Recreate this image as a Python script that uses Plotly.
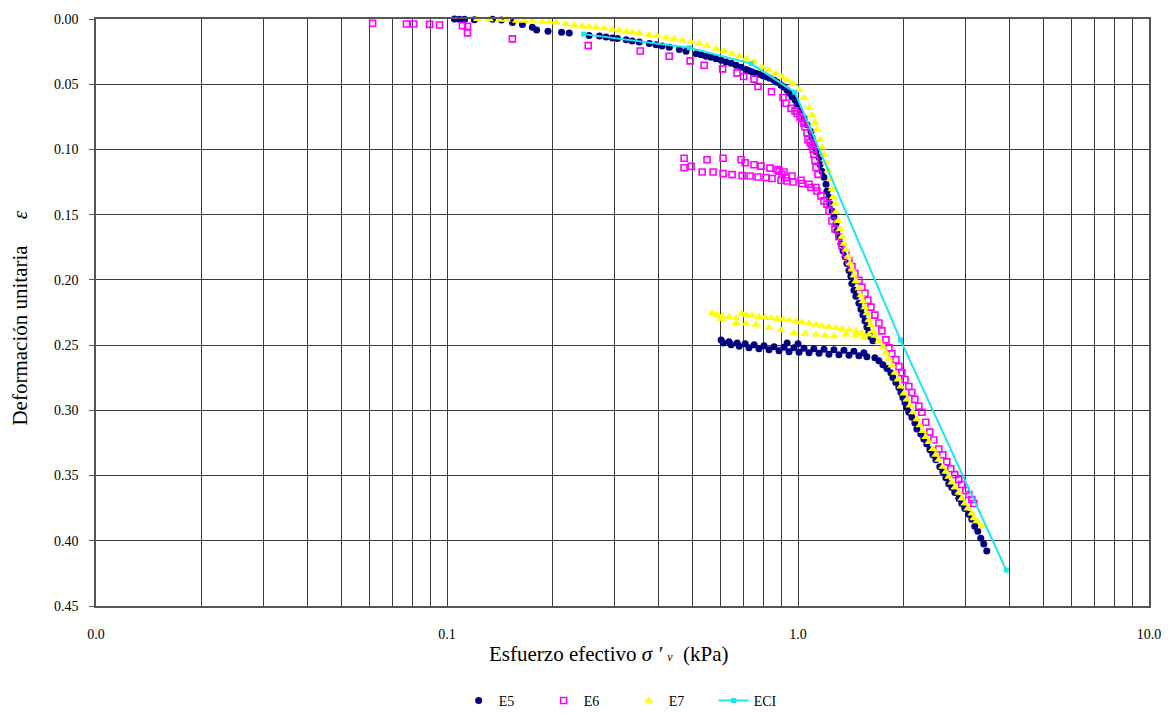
import plotly.graph_objects as go

# ---- E5 : loading curve, unload/reload loop and final compression ----
e5_x = [0.1050, 0.1085, 0.1122, 0.1197, 0.1347, 0.1429, 0.1536, 0.164, 0.175, 0.180,
        0.194, 0.212, 0.223, 0.254, 0.272, 0.284, 0.296, 0.306, 0.324, 0.337,
        0.353, 0.377, 0.394, 0.410, 0.430, 0.459, 0.480, 0.513, 0.530, 0.547,
        0.565, 0.584, 0.604, 0.624, 0.645, 0.666, 0.689, 0.711, 0.725, 0.740,
        0.759, 0.774, 0.795, 0.816, 0.832, 0.855, 0.872, 0.895, 0.912, 0.930,
        0.943, 0.961, 0.981, 0.993,
        1.013, 1.040, 1.061, 1.089, 1.096, 1.110, 1.125, 1.148, 1.155, 1.170,
        1.186, 1.202, 1.209, 1.225, 1.233, 1.250, 1.266, 1.283, 1.291, 1.308,
        1.325, 1.343, 1.361, 1.378, 1.397, 1.415, 1.424, 1.443, 1.462, 1.491,
        1.511, 1.531, 1.551, 1.571, 1.592, 1.613, 1.635,
        0.604, 0.636, 0.671, 0.707, 0.750, 0.800, 0.855, 0.931, 1.000, 0.912,
        0.974, 1.040, 1.110, 1.186, 1.266, 1.352, 1.443, 1.541,
        0.612, 0.645, 0.680, 0.725, 0.774, 0.827, 0.883, 0.943, 1.007, 1.075,
        1.148, 1.225, 1.308, 1.397, 1.491, 1.571,
        1.656, 1.700, 1.745, 1.792, 1.839, 1.863, 1.900, 1.938, 1.964, 1.989,
        2.016, 2.042, 2.069, 2.111, 2.152, 2.181, 2.239, 2.283, 2.328, 2.375,
        2.422, 2.470, 2.535, 2.586, 2.637, 2.689, 2.743, 2.797, 2.872, 2.928,
        2.987, 3.066, 3.127, 3.189, 3.252, 3.317, 3.383, 3.450]
e5_y = [0.0000, 0.0002, 0.0002, 0.0005, 0.0002, 0.0008, 0.0026, 0.0043, 0.0064, 0.0084,
        0.0094, 0.0102, 0.0108, 0.0127, 0.0131, 0.0138, 0.0146, 0.0150, 0.0160, 0.0169,
        0.0176, 0.0188, 0.0198, 0.0207, 0.0216, 0.0233, 0.0248, 0.0266, 0.0275, 0.0286,
        0.0294, 0.0304, 0.0317, 0.0330, 0.0340, 0.0355, 0.0370, 0.0388, 0.0397, 0.0406,
        0.0416, 0.0423, 0.0435, 0.0444, 0.0454, 0.0469, 0.0484, 0.0507, 0.0522, 0.0545,
        0.0568, 0.0596, 0.0621, 0.0659,
        0.0705, 0.0758, 0.0811, 0.0864, 0.0910, 0.0963, 0.1016, 0.1062, 0.1115, 0.1168,
        0.1214, 0.1267, 0.1320, 0.1366, 0.1419, 0.1472, 0.1518, 0.1571, 0.1624, 0.1669,
        0.1723, 0.1776, 0.1821, 0.1875, 0.1928, 0.1973, 0.2027, 0.2080, 0.2125, 0.2179,
        0.2225, 0.2270, 0.2316, 0.2361, 0.2399, 0.2437, 0.2467,
        0.2460, 0.2475, 0.2483, 0.2490, 0.2498, 0.2505, 0.2513, 0.2483, 0.2490, 0.2517,
        0.2520, 0.2524, 0.2528, 0.2532, 0.2536, 0.2540, 0.2547, 0.2559,
        0.2483, 0.2498, 0.2509, 0.2520, 0.2528, 0.2536, 0.2543, 0.2551, 0.2555, 0.2559,
        0.2562, 0.2570, 0.2574, 0.2578, 0.2581, 0.2589,
        0.2597, 0.2619, 0.2650, 0.2680, 0.2711, 0.2749, 0.2787, 0.2825, 0.2863, 0.2901,
        0.2939, 0.2977, 0.3015, 0.3053, 0.3098, 0.3144, 0.3182, 0.3220, 0.3258, 0.3303,
        0.3341, 0.3379, 0.3433, 0.3471, 0.3516, 0.3562, 0.3592, 0.3630, 0.3676, 0.3714,
        0.3752, 0.3797, 0.3835, 0.3888, 0.3927, 0.3980, 0.4025, 0.4079]

# ---- E6 ----
e6_x = [0.0614, 0.0767, 0.0803, 0.0892, 0.0952, 0.1107, 0.1144, 0.1144, 0.1536, 0.2526,
        0.3553, 0.4295, 0.4928, 0.5402, 0.6099, 0.6706, 0.6998, 0.7495, 0.7693, 0.8404,
        0.9064, 0.9244, 0.9552, 0.9805, 0.9935, 1.0132, 1.0266, 1.0401, 1.0470, 1.0608,
        1.0678, 1.0818, 1.0961, 1.1033, 1.1104, 1.1177, 1.1251, 1.1401,
        0.4738, 0.5507, 0.6118, 0.6885, 0.7067, 0.7495, 0.7846, 0.8323, 0.8715, 0.9124,
        0.9614, 1.0199, 1.0747, 1.1251, 0.8829, 0.9005, 0.9244,
        0.4738, 0.4961, 0.5332, 0.5730, 0.6118, 0.6490, 0.6930, 0.7302, 0.7693, 0.8108,
        0.8433, 0.8946, 0.9305, 0.9677, 1.0266, 1.0888, 1.1325, 1.1627, 1.1859,
        1.2092, 1.2252, 1.2496, 1.2744, 1.3081, 1.3341, 1.3695, 1.3966, 1.4244, 1.4526,
        1.4912, 1.5207, 1.5510, 1.5818, 1.6132, 1.6561, 1.7000, 1.7337, 1.7798, 1.8151,
        1.8512, 1.9004, 1.9380, 1.9764, 2.0157, 2.0693, 2.1105, 2.1521, 2.2093, 2.2533,
        2.3129, 2.3746, 2.4375, 2.5187, 2.5855, 2.6544, 2.7248, 2.7972, 2.8715, 2.9284,
        3.0063, 3.0660, 3.1269, 3.1682]
e6_y = [0.0033, 0.0038, 0.0038, 0.0041, 0.0046, 0.0051, 0.0056, 0.0106, 0.0152, 0.0204,
        0.0245, 0.0286, 0.0321, 0.0355, 0.0382, 0.0413, 0.0441, 0.0461, 0.0518, 0.0558,
        0.0602, 0.0646, 0.0685, 0.0704, 0.0725, 0.0750, 0.0765, 0.0798, 0.0826, 0.0872,
        0.0925, 0.0948, 0.0970, 0.1001, 0.1039, 0.1084, 0.1138, 0.1191,
        0.1067, 0.1079, 0.1067, 0.1079, 0.1102, 0.1117, 0.1128, 0.1143, 0.1155, 0.1173,
        0.1204, 0.1236, 0.1267, 0.1292, 0.1166, 0.1191, 0.1216,
        0.1140, 0.1130, 0.1173, 0.1173, 0.1185, 0.1193, 0.1201, 0.1204, 0.1211, 0.1216,
        0.1223, 0.1236, 0.1242, 0.1249, 0.1261, 0.1292, 0.1318, 0.1356, 0.1394,
        0.1419, 0.1472, 0.1548, 0.1609, 0.1669, 0.1738, 0.1799, 0.1852, 0.1897, 0.1951,
        0.2004, 0.2057, 0.2103, 0.2156, 0.2209, 0.2270, 0.2331, 0.2391, 0.2460, 0.2520,
        0.2566, 0.2612, 0.2665, 0.2711, 0.2764, 0.2817, 0.2863, 0.2916, 0.2969, 0.3015,
        0.3091, 0.3167, 0.3227, 0.3296, 0.3341, 0.3395, 0.3448, 0.3493, 0.3531, 0.3569,
        0.3615, 0.3645, 0.3683, 0.3714]

# ---- E7 ----
e7_x = [0.1221, 0.1321, 0.1411, 0.1477, 0.1577, 0.1662, 0.1751, 0.1869, 0.1957, 0.2049,
        0.2188, 0.2305, 0.2429, 0.2543, 0.2662, 0.2806, 0.2958, 0.3096, 0.3241, 0.3372,
        0.3530, 0.3768, 0.3971, 0.4212, 0.4438, 0.4677, 0.4961, 0.5228, 0.5507, 0.5844,
        0.6159, 0.6490, 0.6795, 0.7114, 0.7495, 0.7898, 0.8268, 0.8658, 0.9005, 0.9305,
        0.9677, 1.0066, 1.0401, 1.0747, 1.0961, 1.1177, 1.1325, 1.1552, 1.1704, 1.1859,
        1.2016, 1.2172, 1.2414, 1.2496, 1.2577, 1.2744, 1.2827, 1.2995, 1.3167, 1.3341,
        1.3517, 1.3695, 1.3874, 1.4058, 1.4244, 1.4431, 1.4621, 1.4912, 1.5109, 1.5307,
        1.5510, 1.5714, 1.5922, 1.6132, 1.6344, 1.6561,
        0.5693, 0.5883, 0.6079, 0.6364, 0.6663, 0.6930, 0.7159, 0.7397, 0.7744, 0.8055,
        0.8377, 0.8715, 0.9064, 0.9428, 0.9870, 1.0266, 1.0747, 1.1251, 1.1704, 1.2252,
        1.2827, 1.3341, 1.3966, 1.4621, 1.5207, 1.5922,
        0.6037, 0.6663, 0.7114, 0.7594, 0.8268, 0.8946, 0.9741, 1.0470, 1.1251, 1.1937,
        1.2660, 1.3695, 1.4526, 1.5408,
        1.7000, 1.7452, 1.7798, 1.8151, 1.8512, 1.8880, 1.9253, 1.9636, 2.0025, 2.0424,
        2.0830, 2.1240, 2.1806, 2.2239, 2.2678, 2.3129, 2.3590, 2.4215, 2.4697, 2.5187,
        2.5855, 2.6370, 2.6893, 2.7428, 2.7972, 2.8715, 2.9284, 2.9867, 3.0459, 3.1270,
        3.1682, 3.2313, 3.3390]
e7_y = [0.0000, 0.0002, 0.0005, 0.0005, 0.0013, 0.0013, 0.0013, 0.0021, 0.0021, 0.0026,
        0.0038, 0.0047, 0.0056, 0.0059, 0.0064, 0.0070, 0.0081, 0.0089, 0.0097, 0.0102,
        0.0108, 0.0122, 0.0131, 0.0140, 0.0152, 0.0165, 0.0176, 0.0190, 0.0207, 0.0228,
        0.0245, 0.0266, 0.0286, 0.0304, 0.0328, 0.0368, 0.0393, 0.0418, 0.0442, 0.0469,
        0.0499, 0.0545, 0.0606, 0.0682, 0.0735, 0.0796, 0.0849, 0.0925, 0.0986, 0.1039,
        0.1100, 0.1161, 0.1229, 0.1305, 0.1366, 0.1419, 0.1480, 0.1548, 0.1609, 0.1670,
        0.1723, 0.1769, 0.1822, 0.1875, 0.1920, 0.1966, 0.2011, 0.2065, 0.2118, 0.2163,
        0.2209, 0.2255, 0.2308, 0.2346, 0.2391, 0.2429,
        0.2255, 0.2270, 0.2277, 0.2285, 0.2293, 0.2260, 0.2270, 0.2275, 0.2285, 0.2289,
        0.2293, 0.2300, 0.2304, 0.2310, 0.2319, 0.2325, 0.2334, 0.2343, 0.2353, 0.2361,
        0.2369, 0.2376, 0.2384, 0.2394, 0.2407, 0.2419,
        0.2300, 0.2331, 0.2334, 0.2343, 0.2369, 0.2386, 0.2407, 0.2414, 0.2419, 0.2426,
        0.2432, 0.2419, 0.2429, 0.2441,
        0.2467, 0.2513, 0.2559, 0.2604, 0.2657, 0.2711, 0.2764, 0.2817, 0.2870, 0.2916,
        0.2962, 0.3015, 0.3068, 0.3114, 0.3159, 0.3205, 0.3243, 0.3296, 0.3341, 0.3379,
        0.3433, 0.3471, 0.3509, 0.3554, 0.3592, 0.3630, 0.3676, 0.3714, 0.3752, 0.3790,
        0.3828, 0.3851, 0.3888]

# ---- ECI : incremental-load consolidation test ----
eci_x = [0.245, 0.49, 0.735, 0.98, 1.96, 3.92]
eci_y = [0.0116, 0.0220, 0.0342, 0.0562, 0.2462, 0.4225]

x_tick_vals = [0.01, 0.1, 1, 10]
x_tick_text = ["0.0", "0.1", "1.0", "10.0"]

FONT = "'Liberation Serif', 'Times New Roman', Times, serif"
GRID = "#3a3a3a"

fig = go.Figure()
fig.add_trace(go.Scatter(x=e5_x, y=e5_y, mode="markers", name="E5", cliponaxis=False,
                         marker=dict(symbol="circle", size=7, color="#000080")))
fig.add_trace(go.Scatter(x=e6_x, y=e6_y, mode="markers", name="E6", cliponaxis=False,
                         marker=dict(symbol="square-open", size=6, color="#FF00FF",
                                     line=dict(width=1.6, color="#FF00FF"))))
fig.add_trace(go.Scatter(x=e7_x, y=e7_y, mode="markers", name="E7", cliponaxis=False,
                         marker=dict(symbol="triangle-up", size=8, color="#FFFF00")))
fig.add_trace(go.Scatter(x=eci_x, y=eci_y, mode="lines+markers", name="ECI", cliponaxis=False,
                         line=dict(color="#19E6F0", width=2),
                         marker=dict(symbol="square", size=5, color="#19E6F0")))

# every 1..9 multiple of each decade gets a grid line; only decades are labelled
grid_vals, grid_text = [], []
for dec, lab in zip(x_tick_vals[:-1], x_tick_text[:-1]):
    for m in range(1, 10):
        grid_vals.append(dec * m)
        grid_text.append(lab if m == 1 else "")
grid_vals.append(x_tick_vals[-1])
grid_text.append(x_tick_text[-1])

fig.update_layout(
    width=1173, height=713,
    margin=dict(l=96, r=22, t=13, b=107),
    paper_bgcolor="white", plot_bgcolor="white",
    font=dict(family=FONT, size=14, color="black"),
    showlegend=True,
    legend=dict(orientation="h", xref="container", yref="container",
                x=0.391, xanchor="left", y=0.017, yanchor="middle",
                font=dict(family=FONT, size=14), entrywidth=40, entrywidthmode="pixels",
                bgcolor="rgba(0,0,0,0)"),
    xaxis=dict(type="log", range=[-2, 1], tickvals=grid_vals, ticktext=grid_text,
               showgrid=True, gridcolor=GRID, gridwidth=1, ticks="",
               showline=True, linecolor="#555555", linewidth=1.5, mirror=True,
               zeroline=False, ticklabelstandoff=14,
               tickfont=dict(family=FONT, size=14)),
    yaxis=dict(range=[0.45, 0], dtick=0.05, tick0=0, tickformat=".2f",
               showgrid=True, gridcolor=GRID, gridwidth=1,
               ticks="outside", ticklen=5, tickcolor="#555555",
               showline=True, linecolor="#555555", linewidth=1.5, mirror=True,
               zeroline=False, ticklabelstandoff=8,
               tickfont=dict(family=FONT, size=14)),
    annotations=[
        dict(text="Esfuerzo efectivo <i>σ</i> <i>'</i> <span style='font-size:12px'><i>v</i></span>&nbsp;&nbsp;(kPa)",
             xref="paper", yref="paper", x=0.487, y=-0.082, xanchor="center", yanchor="middle",
             showarrow=False, font=dict(family=FONT, size=21)),
        dict(text="Deformación unitaria&nbsp;&nbsp;&nbsp;&nbsp;&nbsp;<i>ε</i>",
             xref="paper", yref="paper", x=-0.072, y=0.49, xanchor="center", yanchor="middle",
             textangle=-90, showarrow=False, font=dict(family=FONT, size=21)),
    ],
)

fig.write_html("out.html")
